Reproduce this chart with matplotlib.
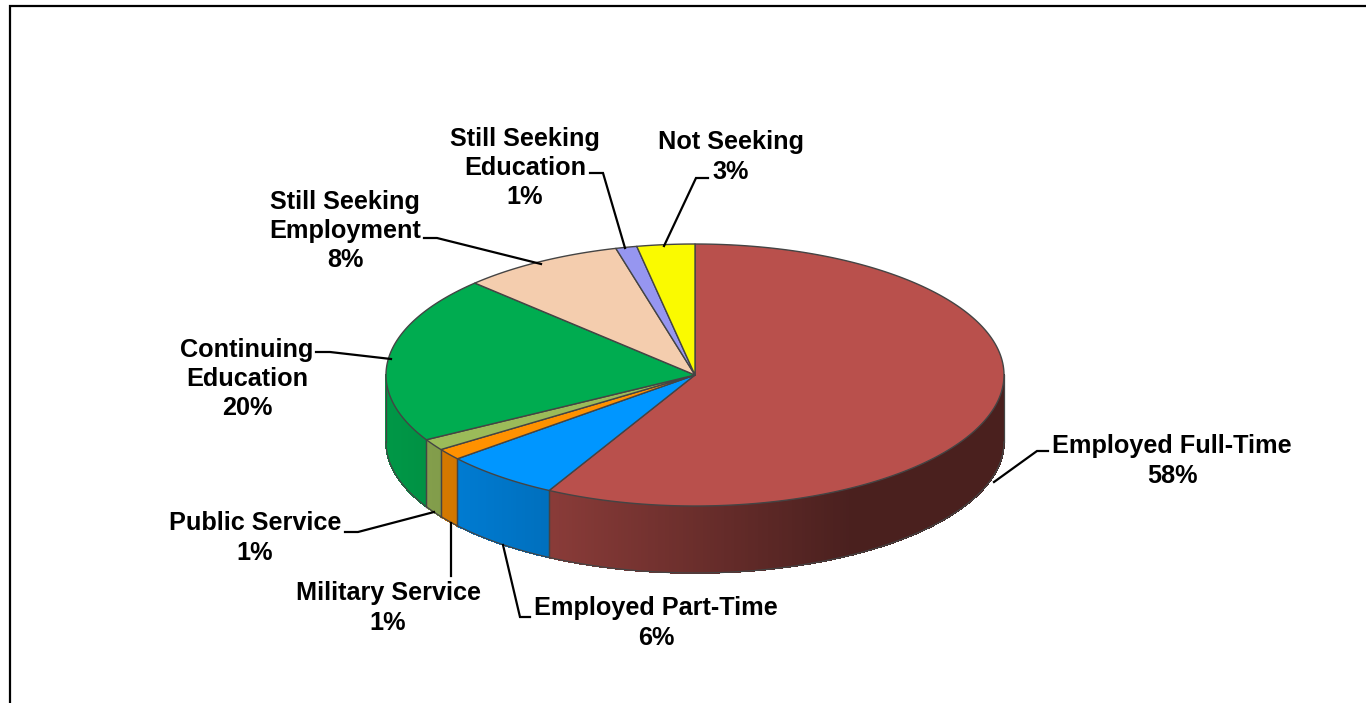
import numpy as np
import matplotlib
matplotlib.use("Agg")
import matplotlib.pyplot as plt
from matplotlib.patches import Polygon

categories = ["Employed Full-Time", "Employed Part-Time", "Military Service",
              "Public Service", "Continuing Education", "Still Seeking Employment",
              "Still Seeking Education", "Not Seeking"]
values = [57.5, 6.1, 1.4, 1.4, 20.49, 8.45, 1.1, 3.0]
colors = ["#B9504C", "#0096FF", "#FF9100", "#9BBB59", "#00AC50", "#F4CDAE", "#9696F0", "#FAFA00"]

# Label text (with its line breaks) and placement: centre x, centre y of the block
label_lines = ["Employed Full-Time", "Employed Part-Time", "Military Service",
               "Public Service", "Continuing\nEducation", "Still Seeking\nEmployment",
               "Still Seeking\nEducation", "Not Seeking"]
label_pos = [(1172, 461), (656, 623), (388, 608), (255, 538), (247, 379), (345, 231), (525, 168), (731, 157)]

# Leader lines as polylines
leaders = [
    [(994, 482), (1037, 451), (1048, 451)],
    [(503, 545), (520, 617), (530, 617)],
    [(451, 523), (451, 576)],
    [(434, 512), (358, 532), (345, 532)],
    [(391, 359), (330, 352), (316, 352)],
    [(541, 264), (437, 238), (424, 238)],
    [(625, 248), (603, 173), (590, 173)],
    [(664, 246), (696, 178), (708, 178)],
]

CX, CY, RX, RY, DEPTH = 695.0, 375.0, 309.0, 131.0, 67.0
EDGE = "#444444"

fig = plt.figure(figsize=(13.66, 7.03), dpi=100, facecolor="white")
ax = fig.add_axes([0, 0, 1, 1])
ax.set_xlim(0, 1366)
ax.set_ylim(703, 0)
ax.axis("off")


def rim(theta):
    # theta runs clockwise from twelve o'clock, in radians
    return CX + RX * np.sin(theta), CY - RY * np.cos(theta)


def side_shade(x):
    return np.interp(x, [387, 552, 850, 1004], [0.88, 0.74, 0.40, 0.40])


def scaled(color, factor):
    r, g, b = matplotlib.colors.to_rgb(color)
    return (r * factor, g * factor, b * factor)


shares = np.array(values) / np.sum(values)
edges = np.concatenate([[0.0], np.cumsum(shares)]) * 2 * np.pi

# Outer wall: only the front half of the rim is visible
for i, color in enumerate(colors):
    a0, a1 = max(edges[i], np.pi / 2), min(edges[i + 1], 3 * np.pi / 2)
    if a1 <= a0:
        continue
    t = np.linspace(a0, a1, max(int((a1 - a0) * 90), 2))
    for t0, t1 in zip(t[:-1], t[1:]):
        x0, y0 = rim(t0)
        x1, y1 = rim(t1)
        shade = scaled(color, side_shade((x0 + x1) / 2))
        ax.add_patch(Polygon([(x0, y0), (x1, y1), (x1, y1 + DEPTH), (x0, y0 + DEPTH)],
                             closed=True, facecolor=shade, edgecolor=shade, lw=0.6,
                             antialiased=False, zorder=2))
    xs, ys = rim(t)
    ax.plot(xs, ys + DEPTH, color=EDGE, lw=0.9, zorder=3)
    for a in (a0, a1):
        if np.pi / 2 < a < 3 * np.pi / 2:
            x, y = rim(a)
            ax.plot([x, x], [y, y + DEPTH], color=EDGE, lw=0.9, zorder=3)
for side in (np.pi / 2, 3 * np.pi / 2):
    x, y = rim(side)
    ax.plot([x, x], [y, y + DEPTH], color=EDGE, lw=0.9, zorder=3)

# Top face
for i, color in enumerate(colors):
    t = np.linspace(edges[i], edges[i + 1], max(int((edges[i + 1] - edges[i]) * 90), 3))
    xs, ys = rim(t)
    pts = np.column_stack([np.r_[CX, xs], np.r_[CY, ys]])
    ax.add_patch(Polygon(pts, closed=True, facecolor=color, edgecolor=EDGE, lw=1.0,
                         joinstyle="round", zorder=4))

for path in leaders:
    px, py = zip(*path)
    ax.plot(px, py, color="black", lw=1.6, solid_joinstyle="miter", zorder=5)

for text, value, (x, y) in zip(label_lines, values, label_pos):
    ax.text(x, y, f"{text}\n{round(value):d}%", ha="center", va="center",
            family=["Liberation Sans"], weight="bold", fontsize=18.2, linespacing=1.28,
            color="black", zorder=6)

# Chart-area border, open along the right and bottom edges of the figure
ax.plot([9.5, 9.5, 1366], [703, 5.5, 5.5], color="black", lw=1.6,
        solid_joinstyle="miter", zorder=7)

fig.savefig("out.png", dpi=100, facecolor="white")
